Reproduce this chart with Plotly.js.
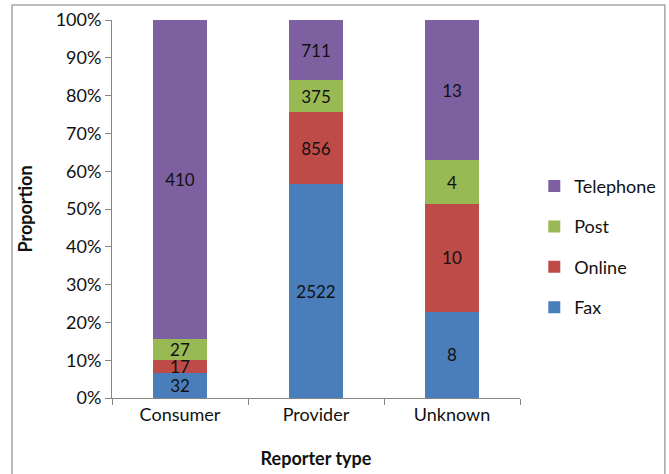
<!DOCTYPE html>
<html><head><meta charset="utf-8">
<script src="https://cdn.plot.ly/plotly-3.0.1.min.js"></script>
<style>html,body{margin:0;padding:0;background:#fff;}#chart{width:669px;height:474px;}</style>
</head><body><div id="chart"></div>
<script>
const categories = ["Consumer", "Provider", "Unknown"];
const fax = [32, 2522, 8];
const online = [17, 856, 10];
const post = [27, 375, 4];
const telephone = [410, 711, 13];
const seriesNames = ["Fax", "Online", "Post", "Telephone"];
const seriesColors = ["#4A7EBB", "#BE4B48", "#98B954", "#7D60A0"];
const seriesValues = [fax, online, post, telephone];

const FONT = "Lato, 'Open Sans', sans-serif";
const traces = seriesValues.map((vals, i) => ({
  type: "bar",
  name: seriesNames[i],
  x: categories,
  y: vals,
  text: vals.map(String),
  textposition: "inside",
  insidetextanchor: "middle",
  textangle: 0,
  constraintext: "none",
  textfont: {family: FONT, size: 17, color: "#111"},
  marker: {color: seriesColors[i], line: {width: 0}},
  legendgroup: "g" + i,
  legendrank: seriesValues.length - i,
  hoverinfo: "name+y"
}));

const layout = {
  width: 669, height: 474,
  margin: {l: 112, r: 149, t: 20, b: 76, autoexpand: false},
  paper_bgcolor: "#fff", plot_bgcolor: "#fff",
  barmode: "stack", barnorm: "percent", bargap: 0.6,
  font: {family: FONT, size: 18, color: "#111"},
  showlegend: true,
  legend: {x: 1.035, y: 0.40, xanchor: "left", yanchor: "middle", traceorder: "grouped",
           bgcolor: "rgba(0,0,0,0)",
           tracegroupgap: 14, font: {family: FONT, size: 18, color: "#111"}, itemwidth: 30},
  xaxis: {
    showgrid: false, showline: true, linecolor: "#868686", linewidth: 1,
    ticks: "outside", ticklen: 6, tickcolor: "#868686", tickson: "boundaries",
    tickfont: {family: FONT, size: 18, color: "#111"},
    title: {text: "<b>Reporter type</b>", font: {family: FONT, size: 18, color: "#111"}, standoff: 28}
  },
  yaxis: {
    range: [0, 100], dtick: 10, ticksuffix: "%", showgrid: false, zeroline: false,
    showline: true, linecolor: "#868686", linewidth: 1,
    ticks: "outside", ticklen: 6, tickcolor: "#868686",
    tickfont: {family: FONT, size: 18, color: "#111"},
    title: {text: "<b>Proportion</b>", font: {family: FONT, size: 18, color: "#111"}, standoff: 18}
  },
  shapes: [{type: "rect", xref: "paper", yref: "paper", x0: -0.245, x1: 1.355, y0: -0.21, y1: 1.04,
            line: {color: "#A6A6A6", width: 1.5}, fillcolor: "rgba(0,0,0,0)", layer: "below"}]
};
Plotly.newPlot("chart", traces, layout, {displayModeBar: false, staticPlot: true});
</script></body></html>
